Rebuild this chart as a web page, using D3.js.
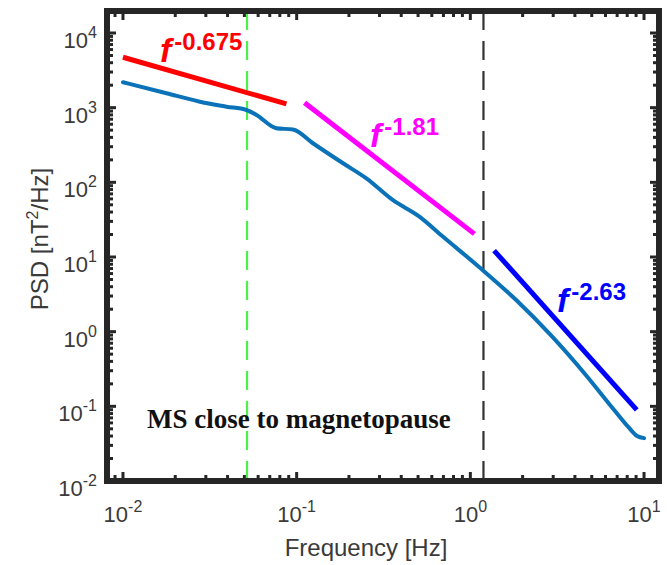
<!DOCTYPE html>
<html>
<head>
<meta charset="utf-8">
<script src="https://cdn.jsdelivr.net/npm/d3@7"></script>
<style>
  html, body { margin: 0; padding: 0; background: #fff; }
  svg { display: block; }
</style>
</head>
<body>
<svg id="chart" width="667" height="565"></svg>
<script>
// ---- data ----
const freq = [0.01, 0.0178, 0.0277, 0.0394, 0.0514, 0.0587, 0.0763, 0.0952, 0.124, 0.185, 0.252, 0.357, 0.509, 0.694, 1.15, 1.83, 2.97, 4.62, 6.73, 8.21, 9.12, 10];
const psd  = [2190, 1560, 1202, 1031, 931, 798, 530, 510, 334, 180, 113, 58.1, 34.8, 18.8, 7.0, 2.67, 0.849, 0.263, 0.0893, 0.0513, 0.0401, 0.0375];

const fitLabels = ["-0.675", "-1.81", "-2.63"];
const fitF0 = [0.01, 0.111, 1.37];
const fitF1 = [0.0873, 1.055, 9.08];
const fitP0 = [4730, 1167, 12.2];
const fitP1 = [1122, 20.4, 0.0897];
const fitColors = ["#ff0000", "#ff00ff", "#0000ff"];

const vlineFreq = [0.0518, 1.19];
const vlineColors = ["#4cf04c", "#333333"];

const xTickExps = [-2, -1, 0, 1];
const yTickExps = [-2, -1, 0, 1, 2, 3, 4];

const annotation = "MS close to magnetopause";

// ---- layout ----
const svg = d3.select("#chart");
const L = 107, R = 659, T = 11, B = 481;
const x = d3.scaleLog().domain([Math.pow(10, -2.092), Math.pow(10, 1.0862)]).range([L, R]);
const y = d3.scaleLog().domain([0.01, Math.pow(10, 4.2946)]).range([B, T]);

const axisColor = "#262626";
const labelFont = "'Liberation Sans', Arial, sans-serif";

// clip
svg.append("clipPath").attr("id", "clip").append("rect")
  .attr("x", L).attr("y", T).attr("width", R - L).attr("height", B - T);
const plot = svg.append("g").attr("clip-path", "url(#clip)");

// vertical dashed lines
vlineFreq.forEach((f, i) => {
  plot.append("line")
    .attr("x1", x(f)).attr("x2", x(f)).attr("y1", T).attr("y2", B)
    .attr("stroke", vlineColors[i]).attr("stroke-width", 2.2)
    .attr("stroke-dasharray", "19,11");
});

// PSD curve
const line = d3.line().x(d => x(d[0])).y(d => y(d[1])).curve(d3.curveMonotoneX);
plot.append("path")
  .datum(freq.map((f, i) => [f, psd[i]]))
  .attr("d", line)
  .attr("fill", "none").attr("stroke", "#0a72b8").attr("stroke-width", 4)
  .attr("stroke-linejoin", "round").attr("stroke-linecap", "round");

// fit lines
fitLabels.forEach((lab, i) => {
  plot.append("line")
    .attr("x1", x(fitF0[i])).attr("y1", y(fitP0[i]))
    .attr("x2", x(fitF1[i])).attr("y2", y(fitP1[i]))
    .attr("stroke", fitColors[i]).attr("stroke-width", 5);
});

// fit labels
const labelPos = [[160, 62], [370, 147], [557, 312]];
fitLabels.forEach((lab, i) => {
  const t = svg.append("text")
    .attr("x", labelPos[i][0]).attr("y", labelPos[i][1])
    .attr("fill", fitColors[i])
    .attr("font-family", labelFont).attr("font-weight", "bold");
  t.append("tspan").attr("font-size", 34).attr("font-style", "italic").text("f");
  t.append("tspan").attr("font-size", 24).attr("dx", 3).attr("dy", -12).text(lab);
});

// annotation
svg.append("text")
  .attr("x", 147).attr("y", 428)
  .attr("font-family", "'Liberation Serif', 'Times New Roman', serif")
  .attr("font-weight", "bold").attr("font-size", 27)
  .attr("fill", "#111").text(annotation);

// ---- ticks ----
const axG = svg.append("g");
function minorTicks(lo, hi) {
  const out = [];
  for (let e = Math.floor(Math.log10(lo)); e <= Math.ceil(Math.log10(hi)); e++) {
    for (let k = 1; k <= 9; k++) {
      const v = k * Math.pow(10, e);
      if (v >= lo && v <= hi) out.push({v, major: k === 1});
    }
  }
  return out;
}
const xd = x.domain(), yd = y.domain();
minorTicks(xd[0], xd[1]).forEach(t => {
  const len = t.major ? 9 : 6;
  const px = x(t.v);
  axG.append("line").attr("x1", px).attr("x2", px).attr("y1", B).attr("y2", B - len)
    .attr("stroke", axisColor).attr("stroke-width", 3);
  axG.append("line").attr("x1", px).attr("x2", px).attr("y1", T).attr("y2", T + len)
    .attr("stroke", axisColor).attr("stroke-width", 3);
});
minorTicks(yd[0], yd[1]).forEach(t => {
  const len = t.major ? 9 : 6;
  const py = y(t.v);
  axG.append("line").attr("y1", py).attr("y2", py).attr("x1", L).attr("x2", L + len)
    .attr("stroke", axisColor).attr("stroke-width", 3);
  axG.append("line").attr("y1", py).attr("y2", py).attr("x1", R).attr("x2", R - len)
    .attr("stroke", axisColor).attr("stroke-width", 3);
});

// frame
svg.append("rect").attr("x", L).attr("y", T).attr("width", R - L).attr("height", B - T)
  .attr("fill", "none").attr("stroke", axisColor).attr("stroke-width", 6);

// tick labels
const tickColor = "#3a3a3a";
xTickExps.forEach(e => {
  const t = svg.append("text")
    .attr("x", x(Math.pow(10, e))).attr("y", 522)
    .attr("text-anchor", "middle")
    .attr("font-family", labelFont).attr("font-size", 22).attr("fill", tickColor);
  t.append("tspan").text("10");
  t.append("tspan").attr("font-size", 16).attr("dy", -10).text(e);
});
yTickExps.forEach(e => {
  const t = svg.append("text")
    .attr("x", 97).attr("y", y(Math.pow(10, e)) + 15)
    .attr("text-anchor", "end")
    .attr("font-family", labelFont).attr("font-size", 22).attr("fill", tickColor);
  t.append("tspan").text("10");
  t.append("tspan").attr("font-size", 16).attr("dy", -10).text(e);
});

// axis titles
svg.append("text")
  .attr("x", 366).attr("y", 556).attr("text-anchor", "middle")
  .attr("font-family", labelFont).attr("font-size", 24).attr("fill", tickColor)
  .text("Frequency [Hz]");
const yt = svg.append("text")
  .attr("transform", "translate(48,239) rotate(-90)")
  .attr("text-anchor", "middle")
  .attr("font-family", labelFont).attr("font-size", 24).attr("fill", tickColor);
yt.append("tspan").text("PSD [nT");
yt.append("tspan").attr("font-size", 16).attr("dy", -10).text("2");
yt.append("tspan").attr("dy", 10).text("/Hz]");
</script>
</body>
</html>
